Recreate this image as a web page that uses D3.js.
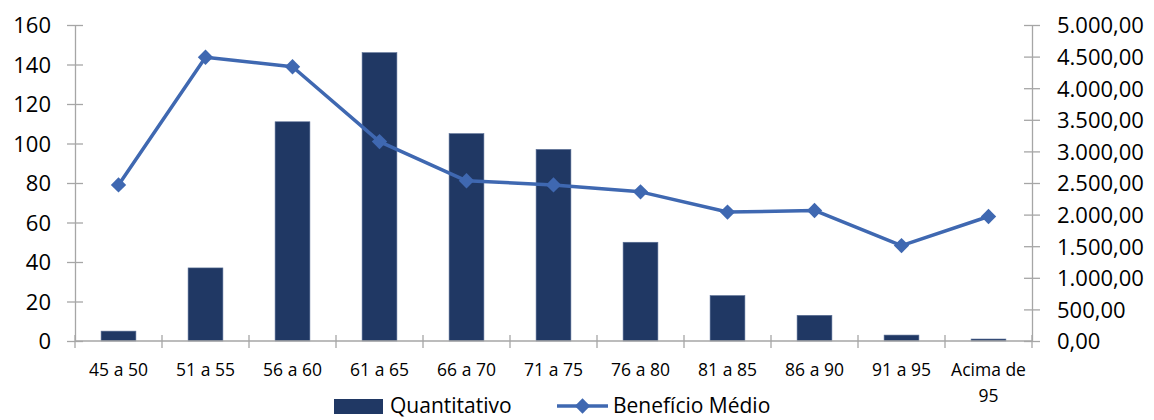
<!DOCTYPE html>
<html>
<head>
<meta charset="utf-8">
<script src="https://cdn.jsdelivr.net/npm/d3@7"></script>
<style>
  body { margin: 0; background: #fff; }
  svg text { font-family: "Open Sans", sans-serif; fill: #000; }
</style>
</head>
<body>
<svg id="chart" width="1154" height="420"></svg>
<script>
const categories = ["45 a 50", "51 a 55", "56 a 60", "61 a 65", "66 a 70", "71 a 75",
                    "76 a 80", "81 a 85", "86 a 90", "91 a 95", "Acima de 95"];
const quantitativo = [5, 37, 111, 146, 105, 97, 50, 23, 13, 3, 1];
const beneficioMedio = [2470, 4490, 4340, 3155, 2535, 2470, 2360, 2040, 2065, 1510, 1970];
const leftTicks = [0, 20, 40, 60, 80, 100, 120, 140, 160];
const rightTicks = [0, 500, 1000, 1500, 2000, 2500, 3000, 3500, 4000, 4500, 5000];

const svg = d3.select('#chart');
const margin = {top: 25, right: 122, bottom: 79, left: 75};
const width = +svg.attr('width') - margin.left - margin.right;
const height = +svg.attr('height') - margin.top - margin.bottom;

const barColor = '#203864';
const lineColor = '#3f68b1';
const axisColor = '#a6a6a6';

const ptBR = d3.formatLocale({decimal: ",", thousands: ".", grouping: [3], currency: ["R$ ", ""]});
const fmtMoney = ptBR.format(",.2f");

const x = d3.scaleBand().domain(categories).range([0, width]);
const yLeft = d3.scaleLinear().domain([0, 160]).range([height, 0]);
const yRight = d3.scaleLinear().domain([0, 5000]).range([height, 0]);

const g = svg.append('g').attr('transform', 'translate(' + margin.left + ',' + margin.top + ')');

// bars
const barW = x.bandwidth() * 0.4;
g.selectAll('rect.bar')
    .data(quantitativo)
    .enter().append('rect')
    .attr('class', 'bar')
    .attr('x', (d, i) => x(categories[i]) + (x.bandwidth() - barW) / 2)
    .attr('y', d => yLeft(d))
    .attr('width', barW)
    .attr('height', d => yLeft(0) - yLeft(d))
    .attr('fill', barColor)
    .attr('stroke', '#5a6f96')
    .attr('stroke-width', 0.6);

// axes (ticks cross the axis line, like the original)
function styleAxis(sel) {
    sel.selectAll('path.domain').attr('stroke', axisColor).attr('stroke-width', 1.3);
    sel.selectAll('.tick line').attr('stroke', axisColor).attr('stroke-width', 1.3);
}

const axL = g.append('g').call(d3.axisLeft(yLeft).tickValues(leftTicks).tickSizeInner(8).tickSizeOuter(0).tickPadding(16));
axL.selectAll('.tick line').attr('x2', 8).attr('x1', -8);
axL.selectAll('.tick text').style('font-size', '22px').attr('dy', '0.36em');
styleAxis(axL);

const axR = g.append('g').attr('transform', 'translate(' + width + ',0)')
    .call(d3.axisRight(yRight).tickValues(rightTicks).tickFormat(fmtMoney).tickSizeInner(8).tickSizeOuter(0).tickPadding(17));
axR.selectAll('.tick line').attr('x1', -8).attr('x2', 8);
axR.selectAll('.tick text').style('font-size', '22px').attr('dy', '0.36em');
styleAxis(axR);

// bottom axis: line plus boundary ticks
const axB = g.append('g').attr('transform', 'translate(0,' + height + ')');
axB.append('line').attr('x1', 0).attr('x2', width).attr('stroke', axisColor).attr('stroke-width', 1.3);
axB.selectAll('line.bt')
    .data(categories.concat(['end']))
    .enter().append('line')
    .attr('class', 'bt')
    .attr('x1', (d, i) => i < categories.length ? x(d) : width)
    .attr('x2', (d, i) => i < categories.length ? x(d) : width)
    .attr('y1', -6).attr('y2', 7)
    .attr('stroke', axisColor).attr('stroke-width', 1.3);

const labels = axB.selectAll('text.cat')
    .data(categories)
    .enter().append('text')
    .attr('class', 'cat')
    .attr('text-anchor', 'middle')
    .style('font-size', '17.5px')
    .attr('transform', d => 'translate(' + (x(d) + x.bandwidth() / 2) + ',35)');
labels.each(function(d) {
    const lines = d.length > 8 ? [d.slice(0, d.lastIndexOf(' ')), d.slice(d.lastIndexOf(' ') + 1)] : [d];
    d3.select(this).selectAll('tspan')
        .data(lines)
        .enter().append('tspan')
        .attr('x', 0)
        .attr('dy', (l, i) => i === 0 ? 0 : 26)
        .text(l => l);
});

// line series on right axis
const line = d3.line()
    .x((d, i) => x(categories[i]) + x.bandwidth() / 2)
    .y(d => yRight(d));

g.append('path')
    .datum(beneficioMedio)
    .attr('fill', 'none')
    .attr('stroke', lineColor)
    .attr('stroke-width', 3.5)
    .attr('stroke-linejoin', 'round')
    .attr('d', line);

const diamond = d3.symbol().type(d3.symbolDiamond2).size(150);
g.selectAll('path.marker')
    .data(beneficioMedio)
    .enter().append('path')
    .attr('class', 'marker')
    .attr('d', diamond)
    .attr('fill', lineColor)
    .attr('transform', (d, i) => 'translate(' + (x(categories[i]) + x.bandwidth() / 2) + ',' + yRight(d) + ')');

// legend
const legend = svg.append('g').attr('transform', 'translate(0,406)');
legend.append('rect')
    .attr('x', 334).attr('y', -7).attr('width', 49).attr('height', 15)
    .attr('fill', barColor);
legend.append('text')
    .attr('x', 390).attr('y', 0).attr('dy', '0.34em')
    .style('font-size', '21px')
    .text('Quantitativo');
legend.append('line')
    .attr('x1', 557).attr('x2', 608).attr('y1', 0).attr('y2', 0)
    .attr('stroke', lineColor).attr('stroke-width', 3.5);
legend.append('path')
    .attr('d', diamond)
    .attr('fill', lineColor)
    .attr('transform', 'translate(582.5,0)');
legend.append('text')
    .attr('x', 613).attr('y', 0).attr('dy', '0.34em')
    .style('font-size', '21px')
    .text('Benefício Médio');
</script>
</body>
</html>
